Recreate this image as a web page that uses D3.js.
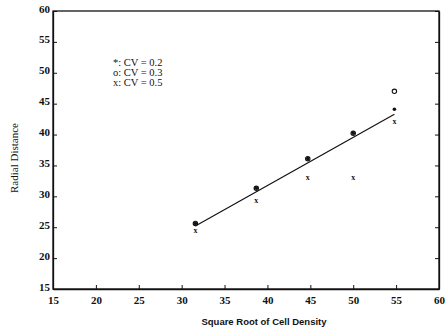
<!DOCTYPE html>
<html>
<head>
<meta charset="utf-8">
<script src="https://cdn.jsdelivr.net/npm/d3@7"></script>
<style>
  body { margin: 0; background: #fff; }
  svg text { font-family: "Liberation Serif", "DejaVu Serif", serif; fill: #111; }
</style>
</head>
<body>
<div id="chart"></div>
<script>
// sqrt of cell density (x) and radial distance for each CV
var density = [31.6, 38.7, 44.7, 50.0, 54.8]
var cv02 = [25.6, 31.3, 36.1, 40.2, 44.1]
var cv03 = [25.6, 31.3, 36.1, 40.2, 47.0]
var cv05 = [24.5, 29.3, 33.1, 33.0, 42.1]
var fitLine = [[31.6, 25.2], [54.8, 43.3]]
var xTicks = [15, 20, 25, 30, 35, 40, 45, 50, 55, 60]
var yTicks = [15, 20, 25, 30, 35, 40, 45, 50, 55, 60]
var legendLabels = ["*: CV = 0.2", "o: CV = 0.3", "x: CV = 0.5"]

var margin = { top: 11, right: 7, bottom: 44, left: 53 }
var W = 446, H = 333
var width = W - margin.left - margin.right
var height = H - margin.top - margin.bottom

var svg = d3.select('#chart').append('svg')
  .attr('width', W)
  .attr('height', H)

var g = svg.append('g')
  .attr('transform', 'translate(' + margin.left + ',' + margin.top + ')')

var x = d3.scaleLinear().domain([15, 60]).range([0, width])
var y = d3.scaleLinear().domain([15, 60]).range([height, 0])

// frame
g.append('rect')
  .attr('width', width).attr('height', height)
  .attr('fill', 'none').attr('stroke', '#111').attr('stroke-width', 1.3)

var xAxis = g.append('g')
  .attr('transform', 'translate(0,' + height + ')')
  .call(d3.axisBottom(x).tickValues(xTicks).tickSizeInner(-4).tickSizeOuter(0).tickPadding(7))
var yAxis = g.append('g')
  .call(d3.axisLeft(y).tickValues(yTicks).tickSizeInner(-4).tickSizeOuter(0).tickPadding(3))
var yRight = g.append('g')
  .attr('transform', 'translate(' + width + ',0)')
  .call(d3.axisRight(y).tickValues(yTicks).tickSizeInner(-4).tickSizeOuter(0).tickFormat(''))

;[xAxis, yAxis, yRight].forEach(function(a) {
  a.select('.domain').attr('stroke', '#111').attr('stroke-width', 1.3)
  a.selectAll('.tick line').attr('stroke', '#111')
  a.selectAll('text')
    .style('font-family', '"Liberation Serif", serif')
    .style('font-size', '11px')
    .style('font-weight', 'bold')
    .attr('fill', '#111')
})
yAxis.selectAll('text').attr('dy', '0.1em')

// fit line
g.append('path')
  .datum(fitLine)
  .attr('fill', 'none')
  .attr('stroke', '#111')
  .attr('stroke-width', 1.2)
  .attr('d', d3.line().x(function(d) { return x(d[0]) }).y(function(d) { return y(d[1]) }))

// CV = 0.3 circles
g.selectAll('.o')
  .data(density.map(function(d, i) { return [d, cv03[i]] }))
  .enter().append('circle')
  .attr('cx', function(d) { return x(d[0]) })
  .attr('cy', function(d) { return y(d[1]) })
  .attr('r', 2.2)
  .attr('fill', 'none')
  .attr('stroke', '#111')
  .attr('stroke-width', 1.1)

// CV = 0.2 dots
g.selectAll('.s')
  .data(density.map(function(d, i) { return [d, cv02[i]] }))
  .enter().append('circle')
  .attr('cx', function(d) { return x(d[0]) })
  .attr('cy', function(d) { return y(d[1]) })
  .attr('r', 1.8)
  .attr('fill', '#111')

// CV = 0.5 x marks
g.selectAll('.x')
  .data(density.map(function(d, i) { return [d, cv05[i]] }))
  .enter().append('text')
  .attr('x', function(d) { return x(d[0]) })
  .attr('y', function(d) { return y(d[1]) })
  .attr('dy', '0.3em')
  .attr('text-anchor', 'middle')
  .style('font-size', '8px')
  .style('font-weight', 'bold')
  .text('x')

// legend
g.selectAll('.leg')
  .data(legendLabels)
  .enter().append('text')
  .attr('x', 60)
  .attr('y', function(d, i) { return 55 + i * 10 })
  .style('font-size', '10.5px')
  .text(function(d) { return d })

// axis titles
svg.append('text')
  .attr('transform', 'translate(18,' + 158 + ') rotate(-90)')
  .attr('text-anchor', 'middle')
  .style('font-size', '11px')
  .text('Radial Distance')

svg.append('text')
  .attr('x', 264)
  .attr('y', 325)
  .attr('text-anchor', 'middle')
  .style('font-family', '"Liberation Sans", sans-serif')
  .style('font-size', '9.5px')
  .style('font-weight', 'bold')
  .text('Square Root of Cell Density')
</script>
</body>
</html>
